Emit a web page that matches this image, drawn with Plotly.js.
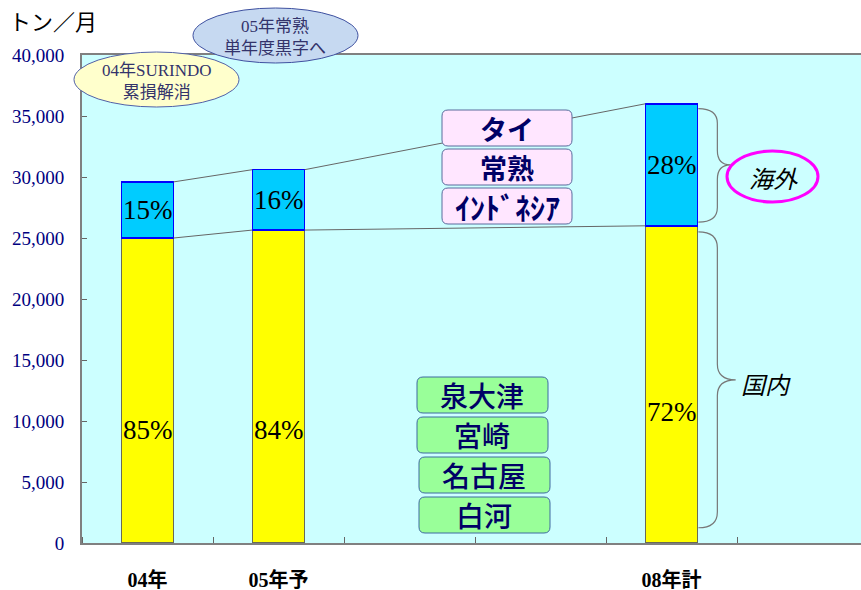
<!DOCTYPE html>
<html><head><meta charset="utf-8">
<script src="https://cdn.plot.ly/plotly-3.0.1.min.js"></script>
<style>html,body{margin:0;padding:0;background:#fff;}</style>
</head><body><div id="chart" style="width:861px;height:590px;"></div>
<script>
// ---- data ----
const categories = ['04年', '05年予', '08年計'];
const categoryPos = [0, 1, 4];
const domestic = [25000, 25650, 26000];
const overseas = [4600, 4950, 10000];
const domesticPct = ['85%', '84%', '72%'];
const overseasPct = ['15%', '16%', '28%'];
const overseasSites = ['タイ', '常熟', 'ｲﾝﾄﾞﾈｼｱ'];
const domesticSites = ['泉大津', '宮崎', '名古屋', '白河'];
const yTickVals = [0, 5000, 10000, 15000, 20000, 25000, 30000, 35000, 40000];

// ---- geometry helpers (pixel -> paper) ----
const PL = 82, PT = 55, PW = 779, PH = 488;
const px = x => (x - PL) / PW;
const py = y => (PT + PH - y) / PH;
function rrect(x0, y0, x1, y1, r) {
  const p = (x, y) => px(x) + ',' + py(y);
  return 'M' + p(x0 + r, y0) + ' L' + p(x1 - r, y0) + ' Q' + p(x1, y0) + ' ' + p(x1, y0 + r) +
    ' L' + p(x1, y1 - r) + ' Q' + p(x1, y1) + ' ' + p(x1 - r, y1) +
    ' L' + p(x0 + r, y1) + ' Q' + p(x0, y1) + ' ' + p(x0, y1 - r) +
    ' L' + p(x0, y0 + r) + ' Q' + p(x0, y0) + ' ' + p(x0 + r, y0) + ' Z';
}
function brace(xL, xM, xT, yTop, yBot, yMid, r) {
  const p = (x, y) => x + ',' + y;
  return 'M' + p(xL, yTop) + ' Q' + p(xM, yTop) + ' ' + p(xM, yTop - r) +
    ' L' + p(xM, yMid + r) + ' Q' + p(xM, yMid) + ' ' + p(xT, yMid) +
    ' Q' + p(xM, yMid) + ' ' + p(xM, yMid - r) +
    ' L' + p(xM, yBot + r) + ' Q' + p(xM, yBot) + ' ' + p(xL, yBot);
}

const totals = domestic.map((d, i) => d + overseas[i]);
const BW = 0.4;

const traces = [
  { type: 'bar', x: categoryPos, y: domestic, width: BW, name: '国内',
    marker: { color: '#FFFF00', line: { color: '#6A6A55', width: 1.5 } }, hoverinfo: 'skip' },
  { type: 'bar', x: categoryPos, y: overseas, width: BW, name: '海外',
    marker: { color: '#00CCFF', line: { color: '#0000FF', width: 1.5 } }, hoverinfo: 'skip' }
];

const shapes = [];
// connecting lines between stacked bar tops
for (let i = 0; i < categoryPos.length - 1; i++) {
  [domestic, totals].forEach(arr => {
    shapes.push({ type: 'line', xref: 'x', yref: 'y',
      x0: categoryPos[i] + BW / 2, y0: arr[i], x1: categoryPos[i + 1] - BW / 2, y1: arr[i + 1],
      line: { color: '#666666', width: 1 } });
  });
}
// braces next to last bar
const last = categoryPos.length - 1;
shapes.push({ type: 'path', xref: 'x', yref: 'y',
  path: brace(categoryPos[last] + 0.205, categoryPos[last] + 0.35, categoryPos[last] + 0.45,
    totals[last] - 400, domestic[last] + 300, (totals[last] + domestic[last]) / 2, 1200),
  line: { color: '#777777', width: 1.2 } });
shapes.push({ type: 'path', xref: 'x', yref: 'y',
  path: brace(categoryPos[last] + 0.205, categoryPos[last] + 0.35, categoryPos[last] + 0.49,
    domestic[last] - 500, 1250, (domestic[last] - 500 + 1250) / 2, 1300),
  line: { color: '#777777', width: 1.2 } });

// ellipses
shapes.push({ type: 'circle', xref: 'paper', yref: 'paper', x0: px(193), x1: px(358), y0: py(8), y1: py(63),
  fillcolor: '#C6D9F1', line: { color: '#3F51A0', width: 1 } });
shapes.push({ type: 'circle', xref: 'paper', yref: 'paper', x0: px(74), x1: px(239), y0: py(52), y1: py(107),
  fillcolor: '#FFFFCC', line: { color: '#5060A8', width: 1 } });
shapes.push({ type: 'circle', xref: 'paper', yref: 'paper', x0: px(727), x1: px(818), y0: py(151), y1: py(202),
  line: { color: '#FF00FF', width: 3 } });

// site boxes
const ovTop = [110, 149, 188];
overseasSites.forEach((s, i) => {
  shapes.push({ type: 'path', xref: 'paper', yref: 'paper', path: rrect(442, ovTop[i], 572, ovTop[i] + 36, 6),
    fillcolor: '#FFE6FF', line: { color: '#5A6A9C', width: 1 } });
});
const dmTop = [377, 417, 457, 497];
const dmX = [417, 417, 419, 419];
domesticSites.forEach((s, i) => {
  shapes.push({ type: 'path', xref: 'paper', yref: 'paper', path: rrect(dmX[i], dmTop[i], dmX[i] + 131, dmTop[i] + 36, 6),
    fillcolor: '#99FF99', line: { color: '#3F6AA0', width: 1 } });
});

const annotations = [];
const serif = '"Liberation Serif", "Times New Roman", "Noto Sans CJK JP", serif';
const jp = '"Noto Sans CJK JP", "Noto Sans", sans-serif';
const C = { showarrow: false, xanchor: 'center', yanchor: 'middle' };
const domLabelY = [9300, 9300, 10700];
categoryPos.forEach((x, i) => {
  annotations.push(Object.assign({ xref: 'x', yref: 'y', x: x, y: domLabelY[i], text: domesticPct[i],
    font: { family: serif, size: 27, color: '#000000' } }, C));
  annotations.push(Object.assign({ xref: 'x', yref: 'y', x: x, y: domestic[i] + overseas[i] / 2, text: overseasPct[i],
    font: { family: serif, size: 27, color: '#000000' } }, C));
});
overseasSites.forEach((s, i) => {
  annotations.push(Object.assign({ xref: 'paper', yref: 'paper', x: px(507), y: py(ovTop[i] + 18), text: s,
    font: { family: jp, size: i === 2 ? 30 : 27, color: '#000066', weight: 'bold' } }, C));
});
domesticSites.forEach((s, i) => {
  annotations.push(Object.assign({ xref: 'paper', yref: 'paper', x: px(dmX[i] + 65), y: py(dmTop[i] + 18), text: s,
    font: { family: jp, size: 28, color: '#000066', weight: 500 } }, C));
});
annotations.push(Object.assign({ xref: 'paper', yref: 'paper', x: px(157), y: py(81), text: '04年SURINDO<br>累損解消',
  font: { family: serif, size: 17, color: '#33336B' } }, C));
annotations.push(Object.assign({ xref: 'paper', yref: 'paper', x: px(275), y: py(37), text: '05年常熟<br>単年度黒字へ',
  font: { family: serif, size: 17, color: '#33336B' } }, C));
annotations.push(Object.assign({ xref: 'paper', yref: 'paper', x: px(773), y: py(177), text: '<i>海外</i>',
  font: { family: jp, size: 24, color: '#000000' } }, C));
annotations.push(Object.assign({ xref: 'paper', yref: 'paper', x: px(766), y: py(383), text: '<i>国内</i>',
  font: { family: jp, size: 24, color: '#000000' } }, C));
annotations.push(Object.assign({ xref: 'paper', yref: 'paper', x: px(7), y: py(20), text: 'トン／月',
  font: { family: jp, size: 22, color: '#000000' } }, C, { xanchor: 'left' }));

const layout = {
  width: 861, height: 590,
  margin: { l: PL, r: 0, t: PT, b: 590 - PT - PH, pad: 0 },
  paper_bgcolor: '#FFFFFF', plot_bgcolor: '#CCFFFF',
  barmode: 'stack', showlegend: false,
  xaxis: {
    range: [-0.5, (861 - PL) / 131 - 0.5],
    tickmode: 'array', tickvals: categoryPos, ticktext: categories,
    ticks: '', showgrid: false, zeroline: false,
    showline: true, linecolor: '#808080', linewidth: 2, mirror: true,
    ticklabelstandoff: 18,
    tickfont: { family: serif, size: 20, color: '#000000', weight: 'bold' },
    minor: { tickmode: 'linear', tick0: 0.5, dtick: 1, ticks: 'inside', ticklen: 6, tickcolor: '#666666', tickwidth: 1, showgrid: false }
  },
  yaxis: {
    range: [0, 40000], tickmode: 'array', tickvals: yTickVals, tickformat: ',d',
    ticks: 'inside', ticklen: 5, tickcolor: '#666666', tickwidth: 1,
    showgrid: false, zeroline: false,
    showline: true, linecolor: '#808080', linewidth: 2,
    ticklabelstandoff: 12,
    tickfont: { family: serif, size: 19, color: '#000080' }
  },
  shapes: shapes,
  annotations: annotations
};

Plotly.newPlot('chart', traces, layout, { staticPlot: true, displayModeBar: false });
</script>
</body></html>
